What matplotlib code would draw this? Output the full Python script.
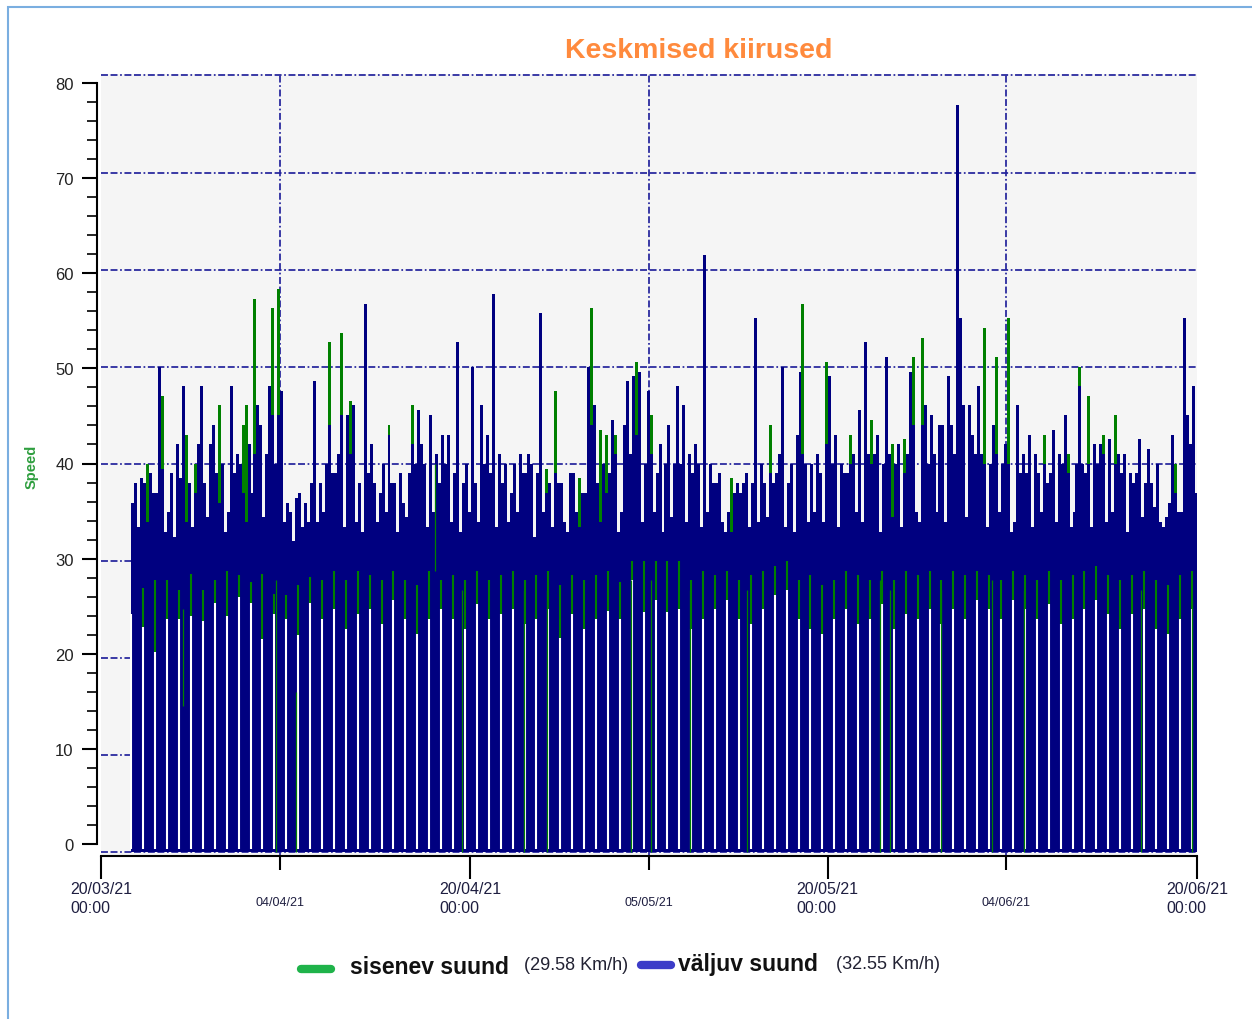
import numpy as np
import matplotlib
matplotlib.use("Agg")
import matplotlib.pyplot as plt
from matplotlib.lines import Line2D
from matplotlib.patches import Rectangle
from matplotlib.ticker import MultipleLocator

W, H = 1252, 1020
NARROW = ['Liberation Sans Narrow', 'Liberation Sans', 'DejaVu Sans']
ARIAL = ['Liberation Sans', 'DejaVu Sans']
NAVY = '#000080'
GREEN = '#008000'
GRIDC = '#23239c'

# time axis: days after 20/03/21 00:00
first_sample = 2.55          # first reading, 22/03 afternoon
step = 0.25                  # four readings per day

# väljuv suund (navy), four readings per day
navy = [
    [36, 38, 33.5, 38.5], [38, 34, 39, 37], [37, 50, 39.5, 33], [35, 39, 32.5, 42],
    [38.5, 48, 34, 38], [33.5, 37, 42, 48], [38, 34.5, 42, 44], [39, 36, 40, 33],
    [35, 48, 39, 41], [40, 37, 34, 42], [37, 41, 46, 44], [34.5, 41, 48, 45],
    [40, 45, 47.5, 34], [36, 35, 32, 36.5], [37, 33.5, 36, 34], [38, 48.5, 34, 38],
    [35, 40, 44, 39], [39, 41, 45, 33.5], [45, 41, 46, 34], [38, 33, 56.5, 39],
    [42, 38, 34, 37], [40, 35, 43, 38], [38, 33, 39, 36], [34.5, 39, 42, 40],
    [45.5, 42, 40, 33.5], [45, 35, 41, 38], [43, 40, 43, 34], [39, 52.5, 33, 38],
    [40, 35, 50, 38], [34, 46, 40, 43], [39, 57.5, 33.5, 41], [38, 40, 34, 37],
    [40, 35, 41, 39], [39, 41, 40, 32.5], [39, 55.5, 35, 37], [38, 33.5, 39, 38],
    [38, 34, 33, 39], [39, 35, 33.5, 37], [37, 50, 44, 46], [38, 34, 40, 37],
    [39, 44.5, 41, 33], [35, 44, 48.5, 41], [49, 43, 49.5, 34], [40, 47.5, 41, 35],
    [39, 42, 33, 40], [44, 34.5, 40, 48], [40, 46, 34, 41], [39, 42, 40, 33.5],
    [61.5, 35, 40, 38], [38, 39, 34, 33], [35, 33, 37, 38], [37, 38, 39, 33.5],
    [38, 55, 34, 40], [38, 34.5, 39, 38], [39, 41, 50, 33.5], [38, 40, 33, 43],
    [49.5, 41, 40, 34], [40, 35, 41, 39], [34, 42, 49, 40], [43, 33.5, 40, 39],
    [39, 40, 41, 35], [45.5, 34, 52.5, 41], [40, 41, 43, 33], [40, 51, 41, 34.5],
    [40, 42, 33.5, 39], [41, 49.5, 44, 35], [34, 44, 46, 40], [45, 41, 35, 44],
    [44, 34, 49, 44], [41, 77, 55, 46], [34.5, 46, 43, 41], [48, 41, 40, 33.5],
    [40, 44, 41, 35], [40, 42, 40, 33], [34, 46, 39, 41], [39, 43, 33.5, 41],
    [39, 35, 40, 38], [39, 43.5, 34, 41], [40, 45, 39, 33.5], [35, 40, 48, 40],
    [39, 40, 33.5, 42], [40, 42, 41, 34], [42.5, 35, 40, 41], [39, 41, 33, 39],
    [38, 39, 42.5, 34.5], [38, 41.5, 38, 35.5], [40, 34, 33.5, 34.5], [36, 43, 37, 35],
    [35, 55, 45, 42], [48, 37],
]

# sisenev suund (green) where it shows above väljuv suund
green_day = [1, 2, 4, 5, 7, 9, 9, 10, 11, 12, 16, 17, 18, 21, 23, 34, 35, 37, 38, 39,
             39, 40, 42, 43, 50, 53, 56, 58, 60, 62, 63, 64, 65, 66, 71, 72, 73, 76,
             78, 79, 80, 81, 82, 87]
green_slot = [1, 2, 2, 1, 1, 1, 2, 1, 3, 1, 2, 2, 1, 2, 2, 3, 2, 2, 2, 1,
              3, 2, 1, 2, 1, 2, 1, 1, 1, 0, 3, 3, 2, 1, 2, 2, 2, 2,
              2, 2, 1, 2, 2, 2]
green_val = [40, 47, 43, 40, 46, 44, 46, 57, 56, 58, 52.5, 53.5, 46.5, 44, 46, 39.5, 47.5,
             38.5, 56, 43.5, 43, 43, 50.5, 45, 38.5, 44, 56.5, 50.5, 43, 44.5, 42, 42.5,
             51, 53, 54, 51, 55, 43, 41, 50, 47, 43, 45, 40]

# nightly break: height of the empty gap, and green reading just above it
gap_top = [24.5, 23.2, 20.6, 24, 24, 24.3, 23.8, 25.7, 24.3, 26.3, 25.7, 21.9, 24.5, 24, 22.4, 25.7,
           24, 25, 23, 24.5, 25, 23.5, 26, 24, 22.5, 24, 25, 24, 23, 25.5, 24, 24.5,
           25, 23.5, 24, 25, 22, 24.5, 23, 24, 24.8, 24, 28, 24.7, 26, 24.7, 25, 23,
           24, 25, 26, 24, 23.5, 25, 26.5, 27, 24, 23, 22.5, 24, 25, 23.5, 24, 25.5,
           23, 24.5, 24, 25, 23.5, 25, 24, 26, 25, 24, 26, 25, 24, 25.5, 23.5, 24,
           25, 26, 24.5, 23, 24.5, 25, 23, 22.5, 24, 25]
gap_green = [0, 27.2, 28, 28, 27, 28.6, 27, 28, 29, 28.5, 27.8, 28.6, 26.6, 26.5, 27.5, 28.3,
             28, 29, 28, 29, 28.5, 28, 29, 28, 27.5, 29, 28, 28.5, 28, 29, 28, 28.5,
             29, 28, 28.5, 29, 27.5, 28.5, 28, 28.5, 28.9, 27.8, 30, 30, 30, 30, 30, 28,
             29, 28.5, 29, 28, 28.5, 29, 29.5, 30, 28, 28.5, 27.5, 28, 29, 28.5, 28, 29,
             28, 29, 28.5, 29, 28, 29, 28.5, 29, 28.5, 28, 29, 28.5, 28, 29, 28, 28.5,
             29, 29.5, 28.5, 28, 28.5, 29, 28, 27.5, 28.5, 29]

# single green readings reaching into the gaps
gl_day = [6.88, 14.69, 16.37, 28.04, 30.30, 35.51, 37.44, 44.45, 46.20, 49.44, 54.23,
          65.39, 66.23, 70.51, 74.79, 77.48, 87.30, 91.58]
gl_lo = [15, 0, 0, 29, 0, 0, 0, 0, 0, 0, 0, 0, 0, 0, 0, 0, 0, 0]
gl_hi = [25, 28, 16.5, 40, 27, 27, 27, 28, 28, 27, 27, 28, 27, 27, 28, 27, 27, 26]

major_days = [0, 31, 61, 92]
major_labels = ['20/03/21\n00:00', '20/04/21\n00:00', '20/05/21\n00:00', '20/06/21\n00:00']
minor_days = [15, 46, 76]
minor_labels = ['04/04/21', '05/05/21', '04/06/21']


def fx(px):
    return px / W


def fy(py):
    return 1 - py / H


fig = plt.figure(figsize=(W / 100, H / 100), dpi=100, facecolor='white')

# main plotting area
ax = fig.add_axes([fx(101), fy(857), (1197 - 101) / W, (857 - 75) / H])
ax.set_facecolor('#f5f5f5')
ax.set_xlim(0, 92)
ax.set_ylim(-0.41, 80.15)
ax.set_axisbelow(True)
for s in ['top', 'right', 'left']:
    ax.spines[s].set_visible(False)
ax.spines['bottom'].set_linewidth(1.5)

gstyle = (0, (4, 1.5, 4, 1.5, 1, 1.5))
ax.set_yticks(range(0, 81, 10))
ax.tick_params(axis='y', length=0, labelleft=False)
ax.grid(axis='y', which='major', color=GRIDC, lw=1.25, ls=gstyle)

ax.set_xticks(major_days)
ax.set_xticklabels(major_labels, multialignment='left', fontsize=11.5,
                   family=NARROW, color='#1e1e40', linespacing=1.3)
ax.set_xticks(minor_days, minor=True)
ax.set_xticklabels(minor_labels, minor=True, fontsize=9, family=NARROW, color='#1e1e40')
ax.tick_params(axis='x', which='major', length=16.5, width=1.5, pad=1.5)
ax.tick_params(axis='x', which='minor', length=10, width=1.5, pad=18.5)
ax.grid(axis='x', which='minor', color=GRIDC, lw=1.25, ls=gstyle)

# green series (behind)
gx = [first_sample + d + step * k for d, k in zip(green_day, green_slot)]
ax.bar(gx, green_val, width=step, align='edge', color=GREEN, linewidth=0, zorder=2)

# navy series
vals = [v for day in navy for v in day]
edges = first_sample + step * np.arange(len(vals) + 1)
ax.stairs(vals, edges, fill=True, color=NAVY, baseline=0, zorder=3)

# nightly gaps
gap_x = first_sample + np.arange(len(gap_top))
ax.vlines(gap_x, 0.35, gap_top, color='white', lw=1.5, zorder=4)
gt = np.array(gap_top)
gg = np.array(gap_green)
m = gg > gt
ax.vlines(gap_x[m], gt[m], gg[m], color=GREEN, lw=1.5, zorder=4)
ax.vlines(gl_day, gl_lo, gl_hi, color=GREEN, lw=0.9, zorder=5)

# separate value axis
ay = fig.add_axes([fx(97), fy(845), 0.0008, (845 - 84) / H])
ay.patch.set_visible(False)
for s in ['top', 'right', 'bottom']:
    ay.spines[s].set_visible(False)
ay.spines['left'].set_linewidth(1.5)
ay.set_ylim(0, 80)
ay.set_xticks([])
ay.yaxis.set_major_locator(MultipleLocator(10))
ay.yaxis.set_minor_locator(MultipleLocator(2))
ay.tick_params(axis='y', which='major', length=10.8, width=1.5, pad=6,
               labelsize=12, labelcolor='#222222')
ay.tick_params(axis='y', which='minor', length=7, width=1.2)
for lab in ay.get_yticklabels():
    lab.set_family(NARROW)

fig.text(fx(32), fy(467), 'Speed', rotation=90, ha='center', va='center',
         color='#2e9e3e', fontsize=10.5, family=NARROW, weight='bold')
fig.text(fx(699), fy(51), 'Keskmised kiirused', ha='center', va='center',
         color='#ff8a3d', fontsize=20.5, weight='bold', family=ARIAL)

# legend
fig.add_artist(Line2D([fx(301), fx(331)], [fy(970), fy(970)], lw=6, color='#1fb34a',
                      solid_capstyle='round', transform=fig.transFigure))
fig.add_artist(Line2D([fx(641), fx(671)], [fy(966), fy(966)], lw=6, color='#3c3cc8',
                      solid_capstyle='round', transform=fig.transFigure))
fig.text(fx(350), fy(968), 'sisenev suund', ha='left', va='center', fontsize=16.5,
         weight='bold', family=ARIAL, color='#111111')
fig.text(fx(524), fy(966), '(29.58 Km/h)', ha='left', va='center', fontsize=13,
         family=NARROW, color='#222233')
fig.text(fx(678), fy(965), 'väljuv suund', ha='left', va='center', fontsize=16.5,
         weight='bold', family=ARIAL, color='#111111')
fig.text(fx(836), fy(965), '(32.55 Km/h)', ha='left', va='center', fontsize=13,
         family=NARROW, color='#222233')

# outer frame
fig.add_artist(Rectangle((fx(8), fy(1040)), 1.2, (1040 - 8) / H, fill=False,
                         edgecolor='#7aaee0', lw=1.5, transform=fig.transFigure))

fig.savefig('out.png', dpi=100)
